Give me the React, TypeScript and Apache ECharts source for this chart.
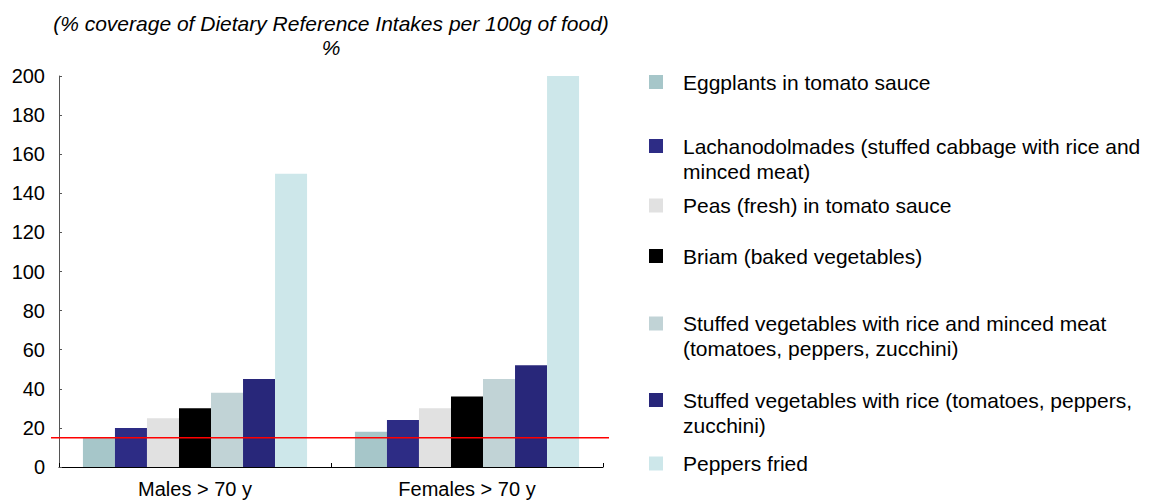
import React, { useEffect, useRef } from "react";
import * as echarts from "echarts";

const categories = ["Males > 70 y", "Females > 70 y"];

const seriesNames = [
  "Eggplants in tomato sauce",
  "Lachanodolmades (stuffed cabbage with rice and\nminced meat)",
  "Peas (fresh) in tomato sauce",
  "Briam (baked vegetables)",
  "Stuffed vegetables with rice and minced meat\n(tomatoes, peppers, zucchini)",
  "Stuffed vegetables with rice (tomatoes, peppers,\nzucchini)",
  "Peppers fried",
];

const eggplants = [15, 18];
const lachanodolmades = [20, 24];
const peas = [25, 30];
const briam = [30, 36];
const stuffedMeat = [38, 45];
const stuffedRice = [45, 52];
const peppersFried = [150, 200];

const referenceValue = 15;

const yMin = 0;
const yMax = 200;
const yInterval = 20;

const titleLine1 = "(% coverage of Dietary Reference Intakes per 100g of food)";
const titleLine2 = "%";

const seriesValues = [eggplants, lachanodolmades, peas, briam, stuffedMeat, stuffedRice, peppersFried];

// styles
const colors = ["#a6c6c9", "#2d2c85", "#e1e1e1", "#000000", "#c1d3d6", "#28277a", "#cde7ea"];
const legendY = [82, 146, 205.5, 256, 323.5, 400, 463.5];
const FONT = "'Liberation Sans', Arial, sans-serif";

export default function App() {
  const ref = useRef<HTMLDivElement>(null);

  useEffect(() => {
    document.body.style.margin = "0";
    const chart = echarts.init(ref.current as HTMLDivElement, null, { renderer: "svg" });

    const barSeries = seriesNames.map((name, i) => ({
      name,
      type: "bar",
      xAxisIndex: 0,
      yAxisIndex: 0,
      data: seriesValues[i],
      barGap: "0%",
      barCategoryGap: "17.6%",
      itemStyle: { color: colors[i] },
      z: 2,
    }));

    const legendGraphics: any[] = [];
    seriesNames.forEach((name, i) => {
      legendGraphics.push({
        type: "rect",
        shape: { x: 649, y: legendY[i] - 7, width: 14, height: 14 },
        style: { fill: colors[i] },
      });
      legendGraphics.push({
        type: "text",
        x: 683,
        y: legendY[i] - 12.5,
        style: {
          text: name,
          fontSize: 21,
          lineHeight: 25,
          fontFamily: FONT,
          fill: "#000",
          textAlign: "left",
          textVerticalAlign: "top",
          verticalAlign: "top",
        },
      });
    });

    const option: any = {
      animation: false,
      backgroundColor: "#ffffff",
      textStyle: { fontFamily: FONT },
      grid: [
        { left: 59, width: 544, top: 76, height: 391, containLabel: false },
        { left: 51, width: 558, top: 76, height: 391, containLabel: false },
      ],
      xAxis: [
        {
          type: "category",
          gridIndex: 0,
          data: categories,
          axisLine: { show: true, lineStyle: { color: "#000", width: 1 } },
          axisTick: { show: true, inside: true, length: 4, lineStyle: { color: "#000" } },
          axisLabel: { fontSize: 20, color: "#000", margin: 12, fontFamily: FONT },
          splitLine: { show: false },
        },
        { type: "value", gridIndex: 1, min: 0, max: 1, show: false },
      ],
      yAxis: [
        {
          type: "value",
          gridIndex: 0,
          min: yMin,
          max: yMax,
          interval: yInterval,
          axisLine: { show: true, lineStyle: { color: "#555", width: 1 } },
          axisTick: { show: true, inside: true, length: 3, lineStyle: { color: "#555" } },
          axisLabel: { fontSize: 20, color: "#000", margin: 14, fontFamily: FONT },
          splitLine: { show: false },
        },
        { type: "value", gridIndex: 1, min: yMin, max: yMax, show: false },
      ],
      series: [
        ...barSeries,
        {
          name: "reference",
          type: "line",
          xAxisIndex: 1,
          yAxisIndex: 1,
          data: [
            [0, referenceValue],
            [1, referenceValue],
          ],
          symbol: "none",
          lineStyle: { color: "#ff0000", width: 1.5 },
          z: 10,
          silent: true,
        },
      ],
      graphic: [
        {
          type: "text",
          x: 331,
          y: 23,
          style: {
            text: titleLine1,
            fontSize: 21,
            fontStyle: "italic",
            fontFamily: FONT,
            fill: "#000",
            textAlign: "center",
            textVerticalAlign: "middle",
            verticalAlign: "middle",
          },
        },
        {
          type: "text",
          x: 331,
          y: 47,
          style: {
            text: titleLine2,
            fontSize: 21,
            fontStyle: "italic",
            fontFamily: FONT,
            fill: "#000",
            textAlign: "center",
            textVerticalAlign: "middle",
            verticalAlign: "middle",
          },
        },
        ...legendGraphics,
      ],
    };

    chart.setOption(option);
    return () => chart.dispose();
  }, []);

  return <div ref={ref} style={{ width: 1152, height: 500 }} />;
}
